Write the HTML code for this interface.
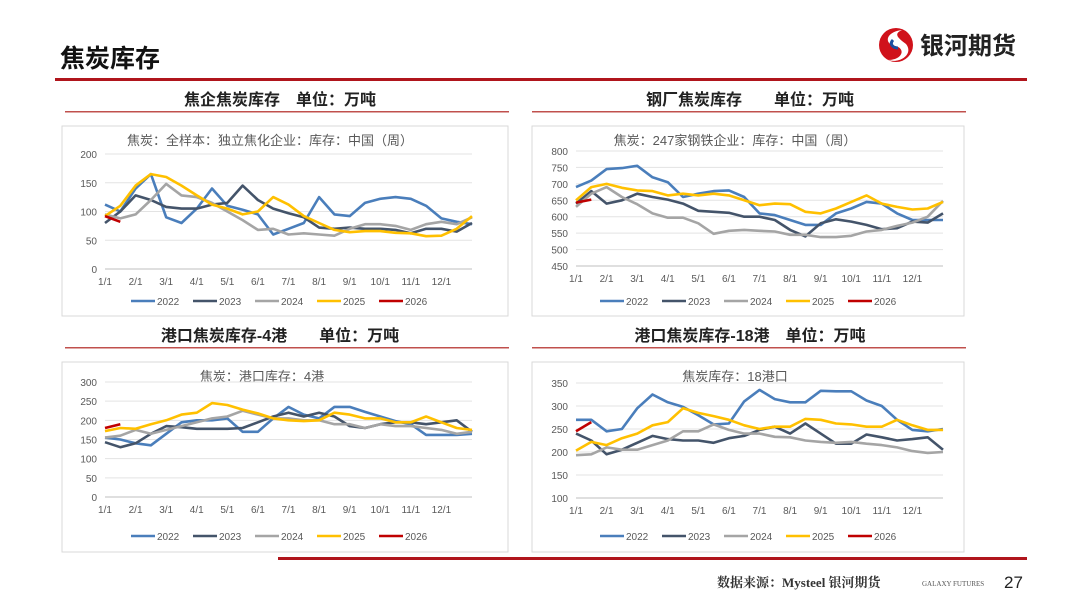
<!DOCTYPE html>
<html><head><meta charset="utf-8"><style>
html,body{margin:0;padding:0;background:#fff;}
svg{display:block;font-family:"Liberation Sans","Noto Sans CJK SC",sans-serif;}
</style></head><body>
<svg id="s" width="1080" height="608" viewBox="0 0 1080 608">
<text x="60" y="67" font-size="25" font-weight="bold" fill="#111">焦炭库存</text>
<g>
<circle cx="896" cy="45" r="17" fill="#d0121b"/>
<path d="M902 30 C885 32 884 44 895 46 C906 48 903 60 888 60 C900 64 914 54 906 44 C898 38 893 34 902 30Z" fill="#fff"/>
<path d="M893 40 C889 44 893 48 898 48" stroke="#1d4fa0" stroke-width="3" fill="none"/>
<text x="920" y="54" font-size="24" font-weight="bold" fill="#222">银河期货</text>
</g>
<rect x="55" y="78" width="972" height="3" fill="#b0151c"/>
<text x="280" y="105" font-size="16" font-weight="bold" fill="#222" text-anchor="middle">焦企焦炭库存　单位：万吨</text>
<rect x="65" y="111" width="444" height="1.5" fill="#c0504d"/>
<text x="750" y="105" font-size="16" font-weight="bold" fill="#222" text-anchor="middle">钢厂焦炭库存　　单位：万吨</text>
<rect x="532" y="111" width="434" height="1.5" fill="#c0504d"/>
<text x="280" y="341" font-size="16" font-weight="bold" fill="#222" text-anchor="middle">港口焦炭库存-4港　　单位：万吨</text>
<rect x="65" y="347" width="444" height="1.5" fill="#c0504d"/>
<text x="750" y="341" font-size="16" font-weight="bold" fill="#222" text-anchor="middle">港口焦炭库存-18港　单位：万吨</text>
<rect x="532" y="347" width="434" height="1.5" fill="#c0504d"/>
<rect x="278" y="557" width="749" height="3" fill="#b0151c"/>
<text x="717" y="587" font-size="13" font-weight="bold" fill="#333" font-family="Liberation Serif, Noto Serif CJK SC, serif">数据来源：Mysteel 银河期货</text>
<text x="922" y="586" font-size="7" fill="#555" font-family="Liberation Serif, serif">GALAXY FUTURES</text>
<text x="1004" y="588" font-size="17" fill="#222">27</text>
<g id="charts"></g>
</svg>
<script>
const months=["1/1","2/1","3/1","4/1","5/1","6/1","7/1","8/1","9/1","10/1","11/1","12/1"];
const years=["2022","2023","2024","2025","2026"];
const colors=["#4a7ebb","#44546a","#a5a5a5","#ffc000","#c00000"];
// chart 1
const c1Ticks=[0,50,100,150,200];
const c1_2022=[112,100,140,165,90,80,105,140,110,103,95,60,70,80,125,95,92,115,122,125,122,110,88,82,78];
const c1_2023=[80,100,128,120,108,105,105,112,115,145,120,105,97,90,72,70,72,70,70,68,62,70,70,65,80];
const c1_2024=[95,88,95,120,148,128,125,115,100,85,68,70,60,62,60,58,70,78,78,75,68,78,82,78,90];
const c1_2025=[92,110,145,165,160,145,128,112,105,95,100,125,112,92,80,68,64,66,66,63,62,57,58,70,92];
const c1_2026=[92,82];
// chart 2
const c2Ticks=[450,500,550,600,650,700,750,800];
const c2_2022=[690,710,745,748,755,720,705,660,670,678,680,660,610,605,590,575,575,610,625,645,640,610,590,590,590];
const c2_2023=[640,678,640,650,670,660,652,640,618,615,612,600,600,590,560,540,580,592,585,575,562,565,585,582,610];
const c2_2024=[630,670,690,660,638,610,597,597,580,548,557,560,557,555,545,545,538,538,542,555,560,572,582,600,648];
const c2_2025=[650,690,700,688,680,678,665,670,665,670,665,650,635,640,638,615,610,625,645,665,640,630,622,625,645];
const c2_2026=[643,652];
// chart 3
const c3Ticks=[0,50,100,150,200,250,300];
const c3_2022=[155,150,140,135,165,195,200,200,205,170,170,205,235,215,205,235,235,222,210,198,190,162,162,162,165];
const c3_2023=[143,130,140,165,185,182,178,178,178,180,195,210,220,210,220,210,185,180,190,195,195,190,195,200,170];
const c3_2024=[155,160,175,165,175,185,195,205,210,225,215,205,205,200,200,190,190,180,190,185,185,180,175,165,170];
const c3_2025=[172,180,178,190,200,215,220,245,240,228,218,205,200,198,200,220,215,205,205,195,195,210,195,180,175];
const c3_2026=[180,190];
// chart 4
const c4Ticks=[100,150,200,250,300,350];
const c4_2022=[270,270,245,250,295,325,308,298,280,260,262,310,335,315,308,308,333,332,332,312,300,270,248,245,250];
const c4_2023=[240,225,195,205,220,235,228,225,225,220,230,235,248,255,240,262,240,218,218,238,232,225,228,232,205];
const c4_2024=[193,195,210,205,205,215,225,245,245,260,248,240,240,233,232,225,222,220,222,218,215,210,202,198,200];
const c4_2025=[203,222,215,230,240,258,265,295,285,278,270,258,250,255,255,272,270,262,260,255,255,270,258,248,248];
const c4_2026=[245,265];

const NS="http://www.w3.org/2000/svg";
const root=document.getElementById('charts');
function mk(tag,attrs,parent){const e=document.createElementNS(NS,tag);for(const k in attrs)e.setAttribute(k,attrs[k]);parent.appendChild(e);return e;}

function chart(name,box,title,ticks,series){
  const g=mk('g',{},root);
  
  
  const bg=mk('rect',{x:box.x,y:box.y,width:box.w,height:box.h,fill:'#fff',stroke:'#d9d9d9'},g);
  
  
  const t=mk('text',{x:box.tx,y:box.y+19,'font-size':13,fill:'#595959','text-anchor':'middle'},g);
  t.textContent=title;
  
  
  const x0=box.px0,x1=box.px1,yT=box.yTop,yB=box.yBot;
  const vmin=ticks[0],vmax=ticks[ticks.length-1];
  const X=m=>x0+(x1-x0)*m/12;
  const Y=v=>yB-(yB-yT)*(v-vmin)/(vmax-vmin);
  ticks.forEach(v=>{
    const l=mk('line',{x1:x0,x2:x1,y1:Y(v),y2:Y(v),stroke:v===vmin?'#bfbfbf':'#e3e3e3','stroke-width':1},g);
    
    
    const tl=mk('text',{x:x0-8,y:Y(v)+4,'font-size':10,fill:'#595959','text-anchor':'end'},g);
    tl.textContent=v;
    
    
  });
  months.forEach((m,i)=>{
    const tl=mk('text',{x:X(i),y:yB+16,'font-size':10,fill:'#595959','text-anchor':'middle'},g);
    tl.textContent=m;
    
    
  });
  series.forEach((s,si)=>{
    const pts=s.map((v,i)=>X(i*0.5).toFixed(1)+','+Y(v).toFixed(1)).join(' ');
    const p=mk('polyline',{points:pts,fill:'none',stroke:colors[si],'stroke-width':2.6,'stroke-linejoin':'round'},g);
    
    
  });
  years.forEach((yr,i)=>{
    const lx=box.lx+i*62, ly=box.ly;
    const lg=mk('g',{},g);
    
    
    mk('line',{x1:lx,x2:lx+24,y1:ly,y2:ly,stroke:colors[i],'stroke-width':2.6},lg);
    const lt=mk('text',{x:lx+26,y:ly+4,'font-size':10,fill:'#595959'},lg);
    lt.textContent=yr;
  });
}
chart('chart-coke-plant',{x:62,y:126,w:446,h:190,tx:270,px0:105,px1:472,yTop:154,yBot:269,lx:131,ly:301},
  '焦炭：全样本：独立焦化企业：库存：中国（周）',c1Ticks,[c1_2022,c1_2023,c1_2024,c1_2025,c1_2026]);
chart('chart-steel-mill',{x:532,y:126,w:432,h:190,tx:735,px0:576,px1:943,yTop:151,yBot:266,lx:600,ly:301},
  '焦炭：247家钢铁企业：库存：中国（周）',c2Ticks,[c2_2022,c2_2023,c2_2024,c2_2025,c2_2026]);
chart('chart-port-4',{x:62,y:362,w:446,h:190,tx:262,px0:105,px1:472,yTop:382,yBot:497,lx:131,ly:536},
  '焦炭：港口库存：4港',c3Ticks,[c3_2022,c3_2023,c3_2024,c3_2025,c3_2026]);
chart('chart-port-18',{x:532,y:362,w:432,h:190,tx:735,px0:576,px1:943,yTop:383,yBot:498,lx:600,ly:536},
  '焦炭库存：18港口',c4Ticks,[c4_2022,c4_2023,c4_2024,c4_2025,c4_2026]);
</script>
</body></html>
